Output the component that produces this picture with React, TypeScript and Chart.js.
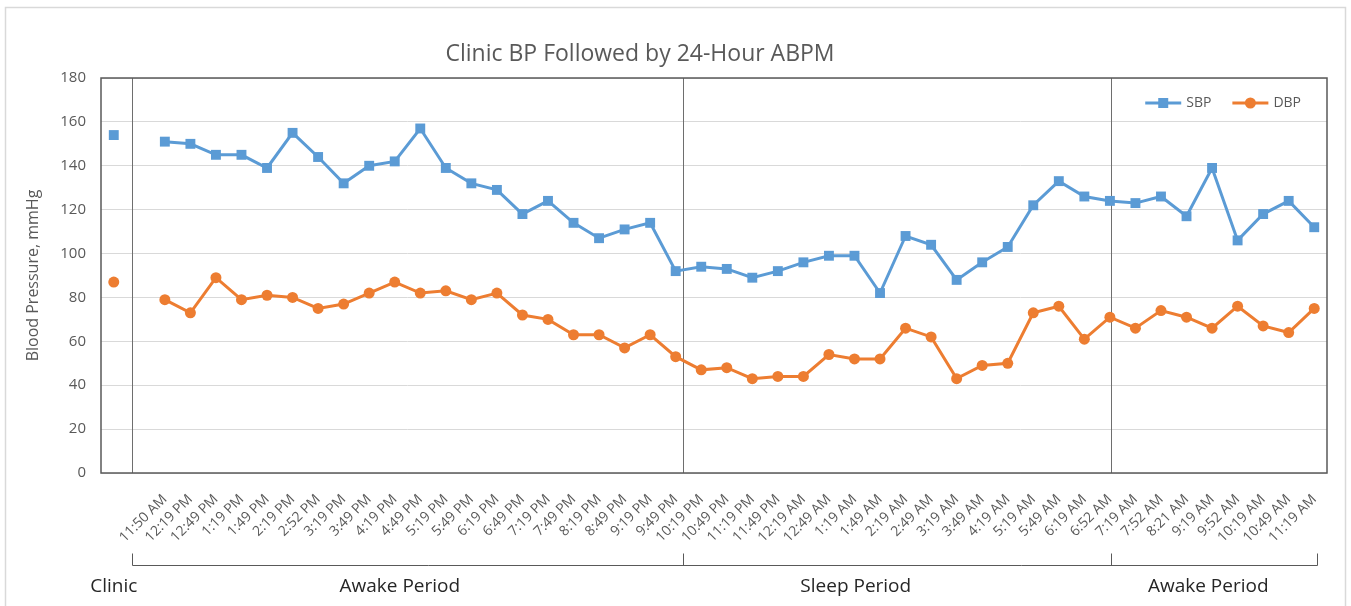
import { useEffect, useRef } from 'react';
import { Chart, registerables } from 'chart.js';

Chart.register(...registerables);

const chartTitle = 'Clinic BP Followed by 24-Hour ABPM';
const yAxisTitle = 'Blood Pressure, mmHg';

const timeLabels = [
  '11:50 AM', '12:19 PM', '12:49 PM', '1:19 PM', '1:49 PM', '2:19 PM', '2:52 PM', '3:19 PM',
  '3:49 PM', '4:19 PM', '4:49 PM', '5:19 PM', '5:49 PM', '6:19 PM', '6:49 PM', '7:19 PM',
  '7:49 PM', '8:19 PM', '8:49 PM', '9:19 PM', '9:49 PM', '10:19 PM', '10:49 PM', '11:19 PM',
  '11:49 PM', '12:19 AM', '12:49 AM', '1:19 AM', '1:49 AM', '2:19 AM', '2:49 AM', '3:19 AM',
  '3:49 AM', '4:19 AM', '5:19 AM', '5:49 AM', '6:19 AM', '6:52 AM', '7:19 AM', '7:52 AM',
  '8:21 AM', '9:19 AM', '9:52 AM', '10:19 AM', '10:49 AM', '11:19 AM',
];

// first category = clinic reading, second = blank spacer
const categories = ['', '', ...timeLabels];

const sbpValues = [
  154, null,
  151, 150, 145, 145, 139, 155, 144, 132, 140, 142,
  157, 139, 132, 129, 118, 124, 114, 107, 111, 114,
  92, 94, 93, 89, 92, 96, 99, 99, 82, 108,
  104, 88, 96, 103, 122, 133, 126, 124, 123, 126,
  117, 139, 106, 118, 124, 112,
];

const dbpValues = [
  87, null,
  79, 73, 89, 79, 81, 80, 75, 77, 82, 87,
  82, 83, 79, 82, 72, 70, 63, 63, 57, 63,
  53, 47, 48, 43, 44, 44, 54, 52, 52, 66,
  62, 43, 49, 50, 73, 76, 61, 71, 66, 74,
  71, 66, 76, 67, 64, 75,
];

const yTicks = [0, 20, 40, 60, 80, 100, 120, 140, 160, 180];

// period boundaries (category index positions) and period names
const periodBounds = [0.7, 22.3, 39.05, 47.1];
const periodNames = ['Clinic', 'Awake Period', 'Sleep Period', 'Awake Period'];
const periodLabelAt = [0, 11.2, 29.05, 42.85];

const BLUE = '#5B9BD5';
const ORANGE = '#ED7D31';
const GRAY_TEXT = '#595959';
const FONT = '"Open Sans", "Noto Sans", sans-serif';

const overlayPlugin = {
  id: 'overlay',
  beforeDraw(chart: any) {
    const ctx = chart.ctx;
    ctx.save();
    ctx.fillStyle = '#ffffff';
    ctx.fillRect(0, 0, chart.width, chart.height);
    ctx.strokeStyle = '#D9D9D9';
    ctx.lineWidth = 1.5;
    ctx.strokeRect(5.5, 7.5, 1340, 700);
    // chart title
    ctx.fillStyle = GRAY_TEXT;
    ctx.font = `23px ${FONT}`;
    ctx.textAlign = 'center';
    ctx.textBaseline = 'middle';
    ctx.fillText(chartTitle, 640, 54);
    ctx.restore();
  },
  beforeDatasetsDraw(chart: any) {
    const { ctx, chartArea, scales } = chart;
    const x = scales.x;
    ctx.save();
    // period divider lines inside plot
    ctx.strokeStyle = '#6E6E6E';
    ctx.lineWidth = 1;
    for (let i = 0; i < 3; i++) {
      const px = Math.round(x.getPixelForValue(periodBounds[i])) + 0.5;
      ctx.beginPath();
      ctx.moveTo(px, chartArea.top);
      ctx.lineTo(px, chartArea.bottom);
      ctx.stroke();
    }
    // plot border
    ctx.strokeStyle = '#595959';
    ctx.lineWidth = 1.5;
    ctx.strokeRect(chartArea.left, chartArea.top, chartArea.right - chartArea.left, chartArea.bottom - chartArea.top);
    ctx.restore();
  },
  afterDraw(chart: any) {
    const { ctx, chartArea, scales } = chart;
    const x = scales.x;
    ctx.save();
    // brackets below axis
    const by = 565.5;
    ctx.strokeStyle = '#595959';
    ctx.lineWidth = 1;
    const xs = periodBounds.map((b) => Math.round(x.getPixelForValue(b)) + 0.5);
    ctx.beginPath();
    ctx.moveTo(xs[0], by);
    ctx.lineTo(xs[xs.length - 1], by);
    xs.forEach((px) => {
      ctx.moveTo(px, by - 12);
      ctx.lineTo(px, by);
    });
    ctx.stroke();
    ctx.fillStyle = '#262626';
    ctx.font = `19px ${FONT}`;
    ctx.textAlign = 'center';
    ctx.textBaseline = 'middle';
    periodNames.forEach((name, i) => {
      ctx.fillText(name, x.getPixelForValue(periodLabelAt[i]), 587);
    });

    // legend inside plot (top right)
    ctx.font = `14px ${FONT}`;
    const items = chart.data.datasets.map((ds: any) => ({
      text: ds.label,
      color: ds.borderColor,
      style: ds.pointStyle,
      w: ctx.measureText(ds.label).width,
    }));
    const lineLen = 36;
    const gapText = 5;
    const gapItem = 21;
    let total = 0;
    items.forEach((it: any, i: number) => {
      total += lineLen + gapText + it.w + (i > 0 ? gapItem : 0);
    });
    let cx = chartArea.right - 26 - total;
    const ly = chartArea.top + 25;
    ctx.textAlign = 'left';
    items.forEach((it: any) => {
      ctx.strokeStyle = it.color;
      ctx.fillStyle = it.color;
      ctx.lineWidth = 3;
      ctx.beginPath();
      ctx.moveTo(cx, ly);
      ctx.lineTo(cx + lineLen, ly);
      ctx.stroke();
      const mx = cx + lineLen / 2;
      ctx.beginPath();
      if (it.style === 'rect') {
        ctx.rect(mx - 5, ly - 5, 10, 10);
      } else {
        ctx.arc(mx, ly, 5.5, 0, Math.PI * 2);
      }
      ctx.fill();
      ctx.fillStyle = GRAY_TEXT;
      ctx.fillText(it.text, cx + lineLen + gapText, ly);
      cx += lineLen + gapText + it.w + gapItem;
    });
    ctx.restore();
  },
};

export default function App() {
  const ref = useRef<HTMLCanvasElement>(null);
  useEffect(() => {
    document.body.style.margin = '0';
    const chart = new Chart(ref.current as HTMLCanvasElement, {
      type: 'line',
      data: {
        labels: categories,
        datasets: [
          {
            label: 'SBP',
            data: sbpValues,
            borderColor: BLUE,
            backgroundColor: BLUE,
            borderWidth: 3,
            pointStyle: 'rect',
            pointRadius: 7,
            pointHoverRadius: 7,
            pointBorderWidth: 0,
            pointBackgroundColor: BLUE,
            spanGaps: false,
            tension: 0,
          },
          {
            label: 'DBP',
            data: dbpValues,
            borderColor: ORANGE,
            backgroundColor: ORANGE,
            borderWidth: 3,
            pointStyle: 'circle',
            pointRadius: 5.5,
            pointHoverRadius: 5.5,
            pointBorderWidth: 0,
            pointBackgroundColor: ORANGE,
            spanGaps: false,
            tension: 0,
          },
        ],
      } as any,
      options: {
        animation: false,
        responsive: false,
        events: [],
        layout: { padding: { left: 0, right: 24, top: 78, bottom: 0 } },
        plugins: {
          legend: { display: false },
          tooltip: { enabled: false },
          title: { display: false },
        },
        scales: {
          x: {
            type: 'category',
            offset: true,
            grid: { display: false, drawTicks: false },
            border: { display: false },
            ticks: {
              autoSkip: false,
              maxRotation: 45,
              minRotation: 45,
              color: GRAY_TEXT,
              font: { family: FONT, size: 14 },
              padding: 18,
            },
            afterFit: (s: any) => {
              s.height = 133;
            },
          },
          y: {
            min: 0,
            max: 180,
            afterBuildTicks: (s: any) => {
              s.ticks = yTicks.map((v) => ({ value: v }));
            },
            ticks: {
              color: GRAY_TEXT,
              font: { family: FONT, size: 15 },
              padding: 15,
            },
            grid: { color: '#D9D9D9', lineWidth: 1, drawTicks: false },
            border: { display: false },
            title: {
              display: true,
              text: yAxisTitle,
              color: GRAY_TEXT,
              font: { family: FONT, size: 16 },
              padding: { top: 24, bottom: 0 },
            },
            afterFit: (s: any) => {
              s.width = 101;
            },
          },
        },
      } as any,
      plugins: [overlayPlugin],
    });
    return () => chart.destroy();
  }, []);
  return <canvas ref={ref} width={1351} height={606} style={{ display: 'block' }} />;
}
